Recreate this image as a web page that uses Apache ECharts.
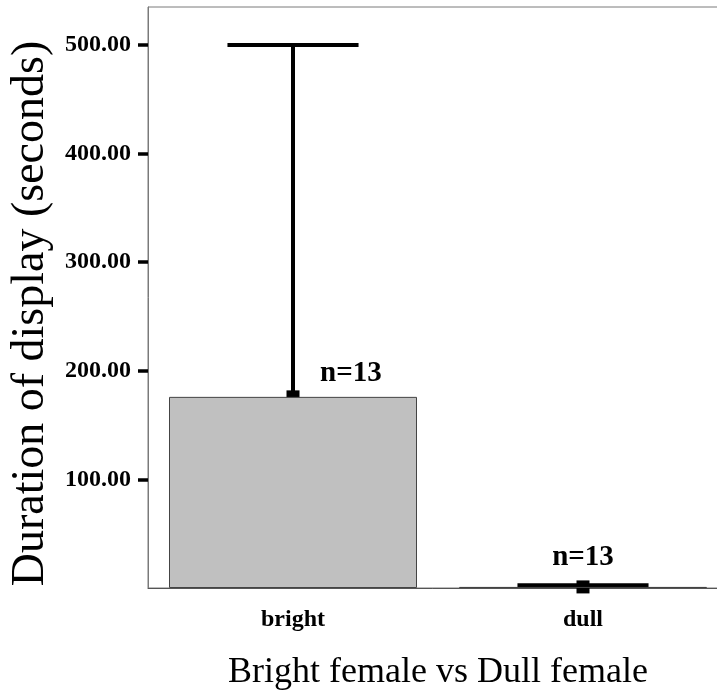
<!DOCTYPE html>
<html>
<head>
<meta charset="utf-8">
<style>
  html, body { margin: 0; padding: 0; background: #fff; }
  #chart { width: 717px; height: 692px; }
</style>
<script src="https://cdn.jsdelivr.net/npm/echarts@6/dist/echarts.min.js"></script>
</head>
<body>
<div id="chart"></div>
<script>
// Mean duration of display per female group, with the upper/lower ends of its error bar
const categories = ['bright', 'dull'];
const means = [176, 1.0];
const upperBound = [500, 2.6];
const lowerBound = [-148, -0.6];
const sampleSizes = [13, 13];
const yTickValues = [100, 200, 300, 400, 500];

const SERIF = '"Liberation Serif", "Times New Roman", serif';

const chart = echarts.init(document.getElementById('chart'), null, { renderer: 'canvas' });

const errorData = categories.map((c, i) => [i, means[i], upperBound[i], lowerBound[i]]);
const labelData = categories.map((c, i) => [i, means[i], upperBound[i], sampleSizes[i]]);

chart.setOption({
  animation: false,
  backgroundColor: '#ffffff',
  grid: {
    left: 148, top: 7, right: -11, bottom: 104,
    outerBoundsMode: 'none',
    containLabel: false,
    show: true, borderColor: '#7a7a7a', borderWidth: 1, backgroundColor: 'transparent'
  },
  xAxis: {
    type: 'category',
    data: categories,
    name: 'Bright female vs Dull female',
    nameLocation: 'middle',
    nameGap: 67,
    nameTextStyle: { fontFamily: SERIF, fontSize: 36, color: '#000' },
    axisLine: { lineStyle: { color: '#555', width: 1 } },
    axisTick: { alignWithLabel: true, length: 11, lineStyle: { color: '#000', width: 4 } },
    axisLabel: { fontFamily: SERIF, fontWeight: 'bold', fontSize: 24, color: '#000', margin: 20 }
  },
  yAxis: {
    type: 'value',
    min: 0,
    max: 535,
    interval: 100,
    name: 'Duration of display (seconds)',
    nameLocation: 'middle',
    nameGap: 93,
    nameTextStyle: { fontFamily: SERIF, fontSize: 46, color: '#000', padding: [0, 32, 0, 0] },
    splitLine: { show: false },
    axisLine: { show: true, lineStyle: { color: '#7a7a7a', width: 1 } },
    axisTick: {
      show: true, length: 10, customValues: yTickValues,
      lineStyle: { color: '#000', width: 3.5 }
    },
    axisLabel: {
      customValues: yTickValues,
      formatter: v => v.toFixed(2),
      fontFamily: SERIF, fontWeight: 'bold', fontSize: 24, color: '#000', margin: 17
    }
  },
  series: [
    {
      // error bars: whisker from the mean to its bounds, a cap at the top and a square at the mean
      type: 'custom',
      z: 1,
      clip: false,
      data: errorData,
      renderItem(params, api) {
        const idx = api.value(0);
        const mean = api.value(1);
        const hi = api.value(2);
        const lo = Math.max(api.value(3), 0);
        const pMean = api.coord([idx, mean]);
        const pHi = api.coord([idx, hi]);
        const pLo = api.coord([idx, lo]);
        const band = api.size([1, 0])[0];
        const capHalf = band * 0.226;
        const sq = 13;
        return {
          type: 'group',
          children: [
            { type: 'line', shape: { x1: pMean[0], y1: pLo[1], x2: pHi[0], y2: pHi[1] },
              style: { stroke: '#000', lineWidth: 4 } },
            { type: 'line', shape: { x1: pHi[0] - capHalf, y1: pHi[1], x2: pHi[0] + capHalf, y2: pHi[1] },
              style: { stroke: '#000', lineWidth: 4 } },
            { type: 'rect', shape: { x: pMean[0] - sq / 2, y: pMean[1] - sq / 2, width: sq, height: sq },
              style: { fill: '#000' } }
          ]
        };
      }
    },
    {
      type: 'bar',
      z: 2,
      data: means,
      barWidth: 248,
      itemStyle: { color: '#c0c0c0', borderColor: '#444', borderWidth: 1 }
    },
    {
      // sample size labels: beside the whisker when it rises well above the bar, otherwise centred above
      type: 'custom',
      z: 3,
      clip: false,
      data: labelData,
      renderItem(params, api) {
        const idx = api.value(0);
        const mean = api.value(1);
        const hi = api.value(2);
        const n = api.value(3);
        const p = api.coord([idx, mean]);
        const pHi = api.coord([idx, hi]);
        const beside = (p[1] - pHi[1]) > 60;
        return {
          type: 'text',
          style: {
            text: 'n=' + n,
            x: beside ? p[0] + 27 : p[0],
            y: beside ? p[1] - 9 : p[1] - 15,
            align: beside ? 'left' : 'center',
            verticalAlign: 'bottom',
            fontFamily: SERIF,
            fontWeight: 'bold',
            fontSize: 29,
            fill: '#000'
          }
        };
      }
    }
  ]
});
</script>
</body>
</html>
